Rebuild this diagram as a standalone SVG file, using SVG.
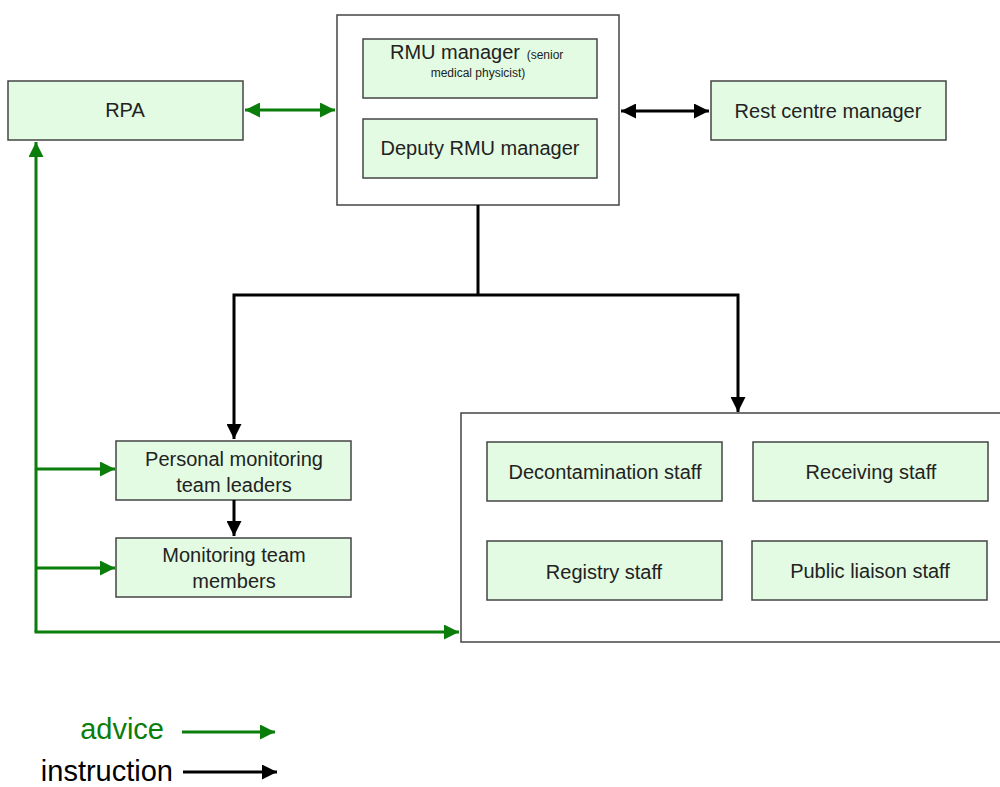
<svg xmlns="http://www.w3.org/2000/svg" width="1000" height="787" viewBox="0 0 1000 787">
  <style>
    .box { fill: #e2fbe2; stroke: #444; stroke-width: 1.5; }
    .frame { fill: #fff; stroke: #444; stroke-width: 1.5; }
    .t { font-family: "Liberation Sans", Arial, sans-serif; font-size: 20px; fill: #222; text-anchor: middle; }
    .small { font-size: 12px; }
    .lg { font-family: "Liberation Sans", Arial, sans-serif; font-size: 29px; text-anchor: end; }
    .adv { fill: none; stroke: #0a7d0a; stroke-width: 3; }
    .ins { fill: none; stroke: #000; stroke-width: 3; }
  </style>
  <defs>
    <marker id="gEnd" viewBox="0 0 10 10" refX="10" refY="5" markerWidth="5" markerHeight="5" orient="auto" markerUnits="strokeWidth">
      <path d="M0,0 L10,5 L0,10 z" fill="#0a7d0a"/>
    </marker>
    <marker id="gStart" viewBox="0 0 10 10" refX="0" refY="5" markerWidth="5" markerHeight="5" orient="auto" markerUnits="strokeWidth">
      <path d="M10,0 L0,5 L10,10 z" fill="#0a7d0a"/>
    </marker>
    <marker id="kEnd" viewBox="0 0 10 10" refX="10" refY="5" markerWidth="5" markerHeight="5" orient="auto" markerUnits="strokeWidth">
      <path d="M0,0 L10,5 L0,10 z" fill="#000"/>
    </marker>
    <marker id="kStart" viewBox="0 0 10 10" refX="0" refY="5" markerWidth="5" markerHeight="5" orient="auto" markerUnits="strokeWidth">
      <path d="M10,0 L0,5 L10,10 z" fill="#000"/>
    </marker>
  </defs>

  <!-- management frame -->
  <g id="management">
    <rect class="frame" x="337" y="15" width="282" height="190"/>
    <g id="rmu-manager">
      <rect class="box" x="363" y="39" width="234" height="59"/>
      <text class="t" x="455" y="59">RMU manager</text>
      <text class="t small" x="545" y="59">(senior</text>
      <text class="t small" x="478" y="77">medical physicist)</text>
    </g>
    <g id="deputy-rmu-manager">
      <rect class="box" x="363" y="119" width="234" height="59"/>
      <text class="t" x="480" y="155">Deputy RMU manager</text>
    </g>
  </g>

  <g id="rpa">
    <rect class="box" x="8" y="81" width="235" height="59"/>
    <text class="t" x="125" y="117">RPA</text>
  </g>

  <g id="rest-centre-manager">
    <rect class="box" x="711" y="81" width="235" height="59"/>
    <text class="t" x="828" y="118">Rest centre manager</text>
  </g>

  <g id="pm-team-leaders">
    <rect class="box" x="116" y="441" width="235" height="59"/>
    <text class="t" x="234" y="466">Personal monitoring</text>
    <text class="t" x="234" y="492">team leaders</text>
  </g>

  <g id="monitoring-team-members">
    <rect class="box" x="116" y="538" width="235" height="59"/>
    <text class="t" x="234" y="562">Monitoring team</text>
    <text class="t" x="234" y="588">members</text>
  </g>

  <!-- staff frame -->
  <g id="staff">
    <rect class="frame" x="461" y="413" width="560" height="229"/>
    <g id="decontamination-staff">
      <rect class="box" x="487" y="442" width="235" height="59"/>
      <text class="t" x="605" y="479">Decontamination staff</text>
    </g>
    <g id="receiving-staff">
      <rect class="box" x="753" y="442" width="235" height="59"/>
      <text class="t" x="871" y="479">Receiving staff</text>
    </g>
    <g id="registry-staff">
      <rect class="box" x="487" y="541" width="235" height="59"/>
      <text class="t" x="604" y="579">Registry staff</text>
    </g>
    <g id="public-liaison-staff">
      <rect class="box" x="752" y="541" width="235" height="59"/>
      <text class="t" x="870" y="578">Public liaison staff</text>
    </g>
  </g>

  <!-- connectors -->
  <g id="connectors">
    <path class="adv" d="M245,110 H335" marker-start="url(#gStart)" marker-end="url(#gEnd)"/>
    <path class="ins" d="M621,111 H709" marker-start="url(#kStart)" marker-end="url(#kEnd)"/>
    <path class="ins" d="M478,205 V295"/>
    <path class="ins" d="M478,295 H234 V439" marker-end="url(#kEnd)"/>
    <path class="ins" d="M478,295 H738 V412" marker-end="url(#kEnd)"/>
    <path class="ins" d="M234,500 V536" marker-end="url(#kEnd)"/>
    <path class="adv" d="M36,632 V142" marker-end="url(#gEnd)"/>
    <path class="adv" d="M36,469 H115" marker-end="url(#gEnd)"/>
    <path class="adv" d="M36,568 H115" marker-end="url(#gEnd)"/>
    <path class="adv" d="M34.5,632 H459" marker-end="url(#gEnd)"/>
  </g>

  <!-- legend -->
  <g id="legend">
    <text class="lg" x="164" y="739" fill="#0a7d0a">advice</text>
    <path class="adv" d="M182,732 H275" marker-end="url(#gEnd)"/>
    <text class="lg" x="173" y="781" fill="#000">instruction</text>
    <path class="ins" d="M183,772 H277" marker-end="url(#kEnd)"/>
  </g>
</svg>
